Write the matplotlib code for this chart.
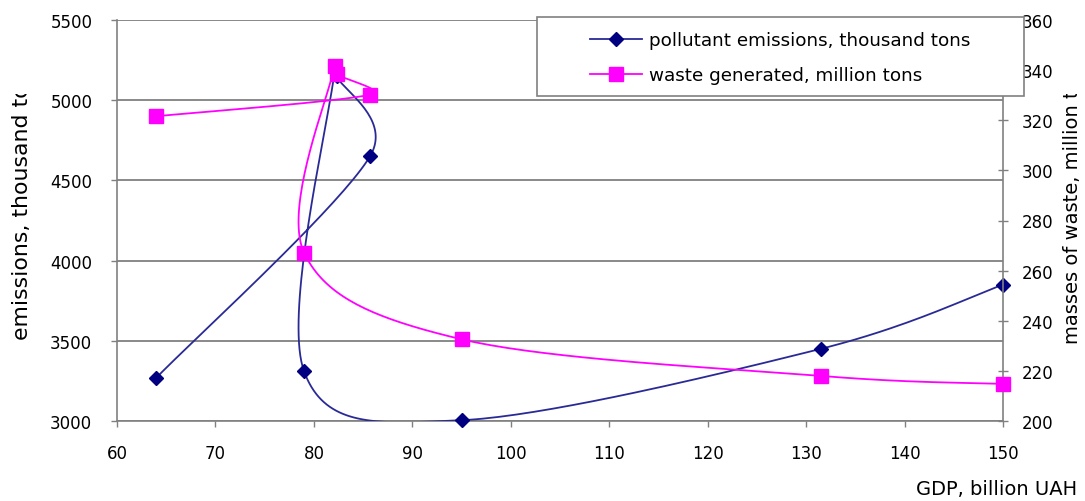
import matplotlib
matplotlib.use("Agg")
import matplotlib.pyplot as plt
import numpy as np
from matplotlib.patches import Rectangle
from matplotlib.lines import Line2D
from matplotlib.transforms import Bbox, TransformedBbox

plt.rcParams['font.family'] = ['DejaVu Sans']

# values (points in chronological order)
gdp = [64.0, 85.7, 82.3, 82.1, 79.0, 95.0, 131.5, 150.0]
emissions = [3270, 4650, 5150, 5180, 3310, 3005, 3450, 3850]
waste = [321.6, 330.2, 338.3, 341.6, 267.2, 232.6, 218.0, 214.8]

x_ticks = [60, 70, 80, 90, 100, 110, 120, 130, 140, 150]
left_ticks = [3000, 3500, 4000, 4500, 5000, 5500]
right_ticks = [200, 220, 240, 260, 280, 300, 320, 340, 360]

W, H = 1085, 502
ax_box = [117 / W, 1 - 422 / H, (1003 - 117) / W, (422 - 21) / H]
grey = '#808080'


def smooth(xs, ys, xlim, ylim, pw, ph, n=40):
    # Excel-like smoothed line: bezier segments in screen space,
    # control arms limited to half of the segment length
    px = (np.asarray(xs, float) - xlim[0]) / (xlim[1] - xlim[0]) * pw
    py = (np.asarray(ys, float) - ylim[0]) / (ylim[1] - ylim[0]) * ph
    p = np.column_stack([px, py])
    pts = np.vstack([p[0], p, p[-1]])
    out = []
    t = np.linspace(0, 1, n)[:, None]
    for i in range(1, len(pts) - 2):
        p0, p1, p2, p3 = pts[i - 1], pts[i], pts[i + 1], pts[i + 2]
        d12 = np.hypot(*(p2 - p1))
        d02 = np.hypot(*(p2 - p0))
        d13 = np.hypot(*(p3 - p1))
        f = 1 / 6 if d02 / 6 < d12 / 2 else d12 / (2 * d02)
        g = 1 / 6 if d13 / 6 < d12 / 2 else d12 / (2 * d13)
        c1 = p1 + (p2 - p0) * f
        c2 = p2 - (p3 - p1) * g
        seg = ((1 - t) ** 3) * p1 + 3 * ((1 - t) ** 2) * t * c1 + 3 * (1 - t) * t ** 2 * c2 + t ** 3 * p2
        out.append(seg if i == 1 else seg[1:])
    out = np.vstack(out)
    sx = out[:, 0] / pw * (xlim[1] - xlim[0]) + xlim[0]
    sy = out[:, 1] / ph * (ylim[1] - ylim[0]) + ylim[0]
    return sx, sy


fig = plt.figure(figsize=(W / 100, H / 100), dpi=100)
ax = fig.add_axes(ax_box)
ax2 = ax.twinx()

xlim = (60, 150)
ylim1 = (3000, 5500)
ylim2 = (200, 360)
pw, ph = 886, 401

sx, sy = smooth(gdp, emissions, xlim, ylim1, pw, ph)
ax.plot(sx, sy, color='#2a2a96', lw=1.3, zorder=3)
ax.plot(gdp, emissions, ls='none', marker='D', ms=7, color='#000080', zorder=4, clip_on=False)

sx, sy = smooth(gdp, waste, xlim, ylim2, pw, ph)
ax2.plot(sx, sy, color='#ff00ff', lw=1.3, zorder=3)
ax2.plot(gdp, waste, ls='none', marker='s', ms=10.5, color='#ff00ff', zorder=4, clip_on=False)

ax.set_xlim(*xlim)
ax.set_ylim(*ylim1)
ax2.set_ylim(*ylim2)
ax.set_xticks(x_ticks)
ax.set_yticks(left_ticks)
ax2.set_yticks(right_ticks)

ax.grid(axis='y', color=grey, lw=1.3)
ax.set_axisbelow(True)

for a in (ax, ax2):
    a.spines['top'].set_visible(False)
    for s in a.spines.values():
        s.set_color(grey)
        s.set_linewidth(1.2)
ax.spines['right'].set_visible(False)
ax2.spines['left'].set_visible(False)
ax2.spines['bottom'].set_visible(False)

ax.tick_params(axis='x', direction='out', length=4.3, width=1, color=grey, pad=12, labelsize=12)
ax.tick_params(axis='y', direction='out', length=4.3, width=1, color=grey, pad=13.5, labelsize=12)
ax2.tick_params(axis='y', direction='inout', length=7, width=1, color=grey, pad=10, labelsize=12)

# axis titles (clipped at the top like the original)
clip = TransformedBbox(Bbox.from_extents(0, 0, 1, 1 - 95 / H), fig.transFigure)
t1 = fig.text(22 / W, 1 - 340 / H, 'emissions, thousand tons', rotation=90,
              ha='center', va='bottom', fontsize=15.8)
t1.set_clip_box(clip)
t1.set_clip_on(True)
t2 = fig.text(1073 / W, 1 - 344 / H, 'masses of waste, million tons', rotation=90,
              ha='center', va='bottom', fontsize=14)
t2.set_clip_box(clip)
t2.set_clip_on(True)
fig.text(1077 / W, 1 - 490 / H, 'GDP, billion UAH', ha='right', va='center', fontsize=14)

# legend
fig.add_artist(Rectangle((537 / W, 1 - 97 / H), (1024 - 537) / W, (97 - 18) / H,
                         transform=fig.transFigure, facecolor='white',
                         edgecolor=grey, lw=1.2, zorder=3))
handles = [
    Line2D([], [], color='#2a2a96', lw=1.3, marker='D', ms=7, mfc='#000080', mec='#000080'),
    Line2D([], [], color='#ff00ff', lw=1.3, marker='s', ms=10.5),
]
labels = ['pollutant emissions, thousand tons', 'waste generated, million tons']
fig.legend(handles, labels, loc='upper left', bbox_to_anchor=(590 / W, 1 - 32 / H),
           frameon=False, fontsize=13.25, handlelength=2.85, handletextpad=0.35,
           labelspacing=0.95, borderpad=0, borderaxespad=0)

fig.savefig('out.png', dpi=100)
